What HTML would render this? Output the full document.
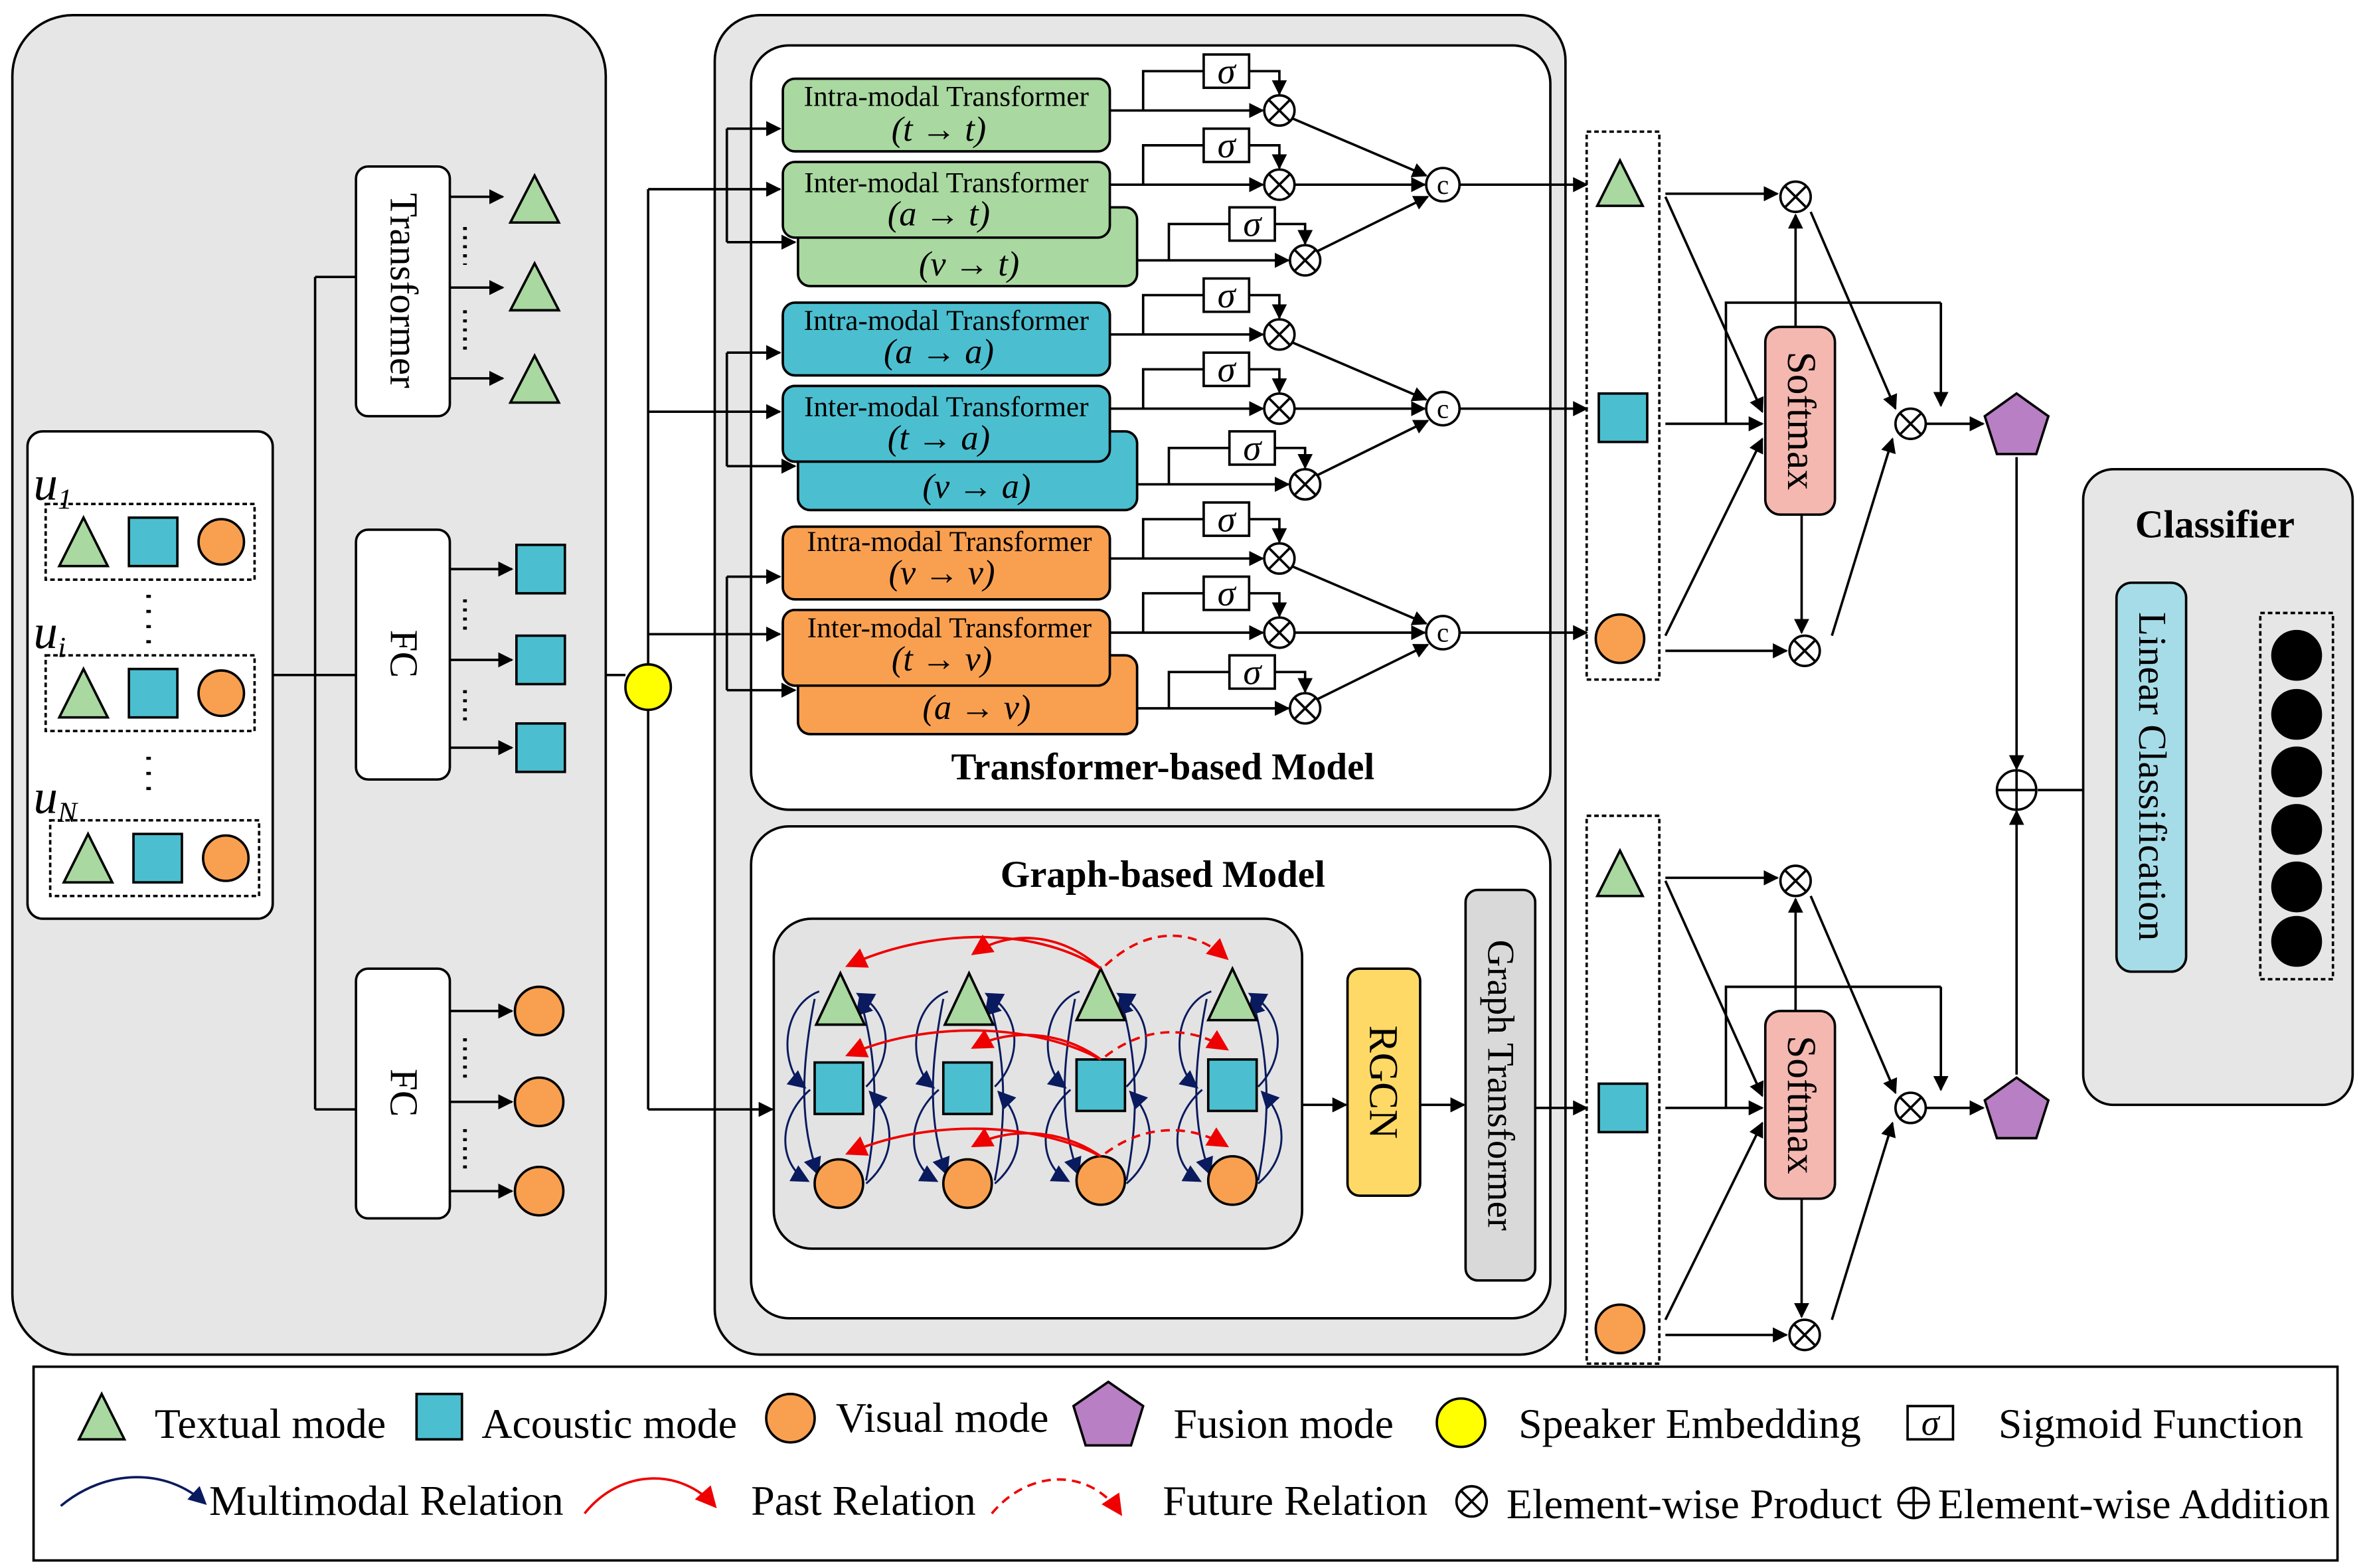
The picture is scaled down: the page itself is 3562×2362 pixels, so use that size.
<!DOCTYPE html>
<html><head><meta charset="utf-8"><style>
html,body{margin:0;padding:0;background:#fff}
svg{display:block}
text{font-family:"Liberation Serif",serif;fill:#000}
</style></head><body>
<svg width="3562" height="2362" viewBox="0 0 1562 1036" xmlns="http://www.w3.org/2000/svg">
<defs>
<marker id="a" markerWidth="10" markerHeight="10" refX="9" refY="5" orient="auto" markerUnits="userSpaceOnUse"><path d="M0,0 L10,5 L0,10 z" fill="#000"/></marker>
<marker id="b" markerWidth="12" markerHeight="12" refX="10" refY="6" orient="auto" markerUnits="userSpaceOnUse"><path d="M0,0 L12,6 L0,12 z" fill="#0a1a5e"/></marker>
<marker id="r" markerWidth="14" markerHeight="14" refX="12" refY="7" orient="auto" markerUnits="userSpaceOnUse"><path d="M0,0 L14,7 L0,14 z" fill="#e00"/></marker>
</defs>
<g stroke="#000" stroke-width="1.6" fill="none">
<rect x="8" y="10" width="392" height="885" rx="40" fill="#e6e6e6"/>
<rect x="18" y="285" width="162" height="322" rx="10" fill="#fff"/>
<rect x="30" y="333" width="138" height="50" stroke-dasharray="3,2"/>
<rect x="30" y="433" width="138" height="50" stroke-dasharray="3,2"/>
<rect x="33" y="542" width="138" height="50" stroke-dasharray="3,2"/>
<polygon points="55,342 39,374 71,374" fill="#a9d8a0"/>
<rect x="85" y="342" width="32" height="32" fill="#4bbfd0"/>
<circle cx="146" cy="358" r="15" fill="#f9a050"/>
<polygon points="55,442 39,474 71,474" fill="#a9d8a0"/>
<rect x="85" y="442" width="32" height="32" fill="#4bbfd0"/>
<circle cx="146" cy="458" r="15" fill="#f9a050"/>
<polygon points="58,551 42,583 74,583" fill="#a9d8a0"/>
<rect x="88" y="551" width="32" height="32" fill="#4bbfd0"/>
<circle cx="149" cy="567" r="15" fill="#f9a050"/>
<path d="M180,446 H208 M208,183 V733 M208,183 H235 M208,446 H235 M208,733 H235"/>
<rect x="235" y="110" width="62" height="165" rx="8" fill="#fff"/>
<rect x="235" y="350" width="62" height="165" rx="8" fill="#fff"/>
<rect x="235" y="640" width="62" height="165" rx="8" fill="#fff"/>
<g marker-end="url(#a)">
<path d="M297,130 H332"/><path d="M297,190 H332"/><path d="M297,250 H332"/>
<path d="M297,376 H338"/><path d="M297,436 H338"/><path d="M297,494 H338"/>
<path d="M297,668 H338"/><path d="M297,728 H338"/><path d="M297,787 H338"/>
</g>
<polygon points="353,116 337,147 369,147" fill="#a9d8a0"/>
<polygon points="353,174 337,205 369,205" fill="#a9d8a0"/>
<polygon points="353,235 337,266 369,266" fill="#a9d8a0"/>
<rect x="341" y="360" width="32" height="32" fill="#4bbfd0"/>
<rect x="341" y="420" width="32" height="32" fill="#4bbfd0"/>
<rect x="341" y="478" width="32" height="32" fill="#4bbfd0"/>
<circle cx="356" cy="668" r="16" fill="#f9a050"/>
<circle cx="356" cy="728" r="16" fill="#f9a050"/>
<circle cx="356" cy="787" r="16" fill="#f9a050"/>
<path d="M307,150 V175 M307,205 V235 M307,396 V420 M307,456 V480 M307,686 V712 M307,746 V772" stroke-dasharray="2,4" stroke-width="2.5"/>
<path d="M98,393 V425 M98,500 V530" stroke-dasharray="2,8" stroke-width="3"/>
<rect x="472" y="10" width="562" height="885" rx="30" fill="#e6e6e6"/>
<rect x="496" y="30" width="528" height="505" rx="25" fill="#fff"/>
<rect x="496" y="546" width="528" height="325" rx="25" fill="#fff"/>
<path d="M400,446 H413"/>
<path d="M428,125 V733"/>
<g marker-end="url(#a)"><path d="M428,125 H515"/><path d="M428,272 H515"/><path d="M428,419 H515"/><path d="M428,733 H510"/></g>
<circle cx="428" cy="454" r="15" fill="#ffff00"/>
</g>
<g id="row0" stroke="#000" stroke-width="1.6" fill="none">
<rect x="527" y="137" width="224" height="52" rx="8" fill="#a9d8a0"/>
<rect x="517" y="107" width="216" height="50" rx="8" fill="#a9d8a0"/>
<rect x="517" y="52" width="216" height="48" rx="8" fill="#a9d8a0"/>
<path d="M480,85 V160"/>
<g marker-end="url(#a)">
<path d="M480,85 H515"/><path d="M480,160 H525"/><path d="M733,73 H834"/><path d="M733,122 H834"/><path d="M751,172 H851"/>
<path d="M825,47 H845 V62"/><path d="M825,96 H845 V111"/><path d="M842,148 H862 V161"/>
<path d="M853,78 L942,116"/><path d="M855,122 H941"/><path d="M870,166 L943,130"/><path d="M964,122 H1048"/>
</g>
<path d="M755,73 V47 H795 M755,122 V96 H795 M772,172 V148 H812"/>
<rect x="795" y="36" width="30" height="22" fill="#fff"/>
<rect x="795" y="85" width="30" height="22" fill="#fff"/>
<rect x="812" y="137" width="30" height="22" fill="#fff"/>
<circle cx="845" cy="73" r="10" fill="#fff"/><path d="M838,66 L852,80 M852,66 L838,80"/>
<circle cx="845" cy="122" r="10" fill="#fff"/><path d="M838,115 L852,129 M852,115 L838,129"/>
<circle cx="862" cy="172" r="10" fill="#fff"/><path d="M855,165 L869,179 M869,165 L855,179"/>
<circle cx="953" cy="122" r="11" fill="#fff"/>
</g>
<use href="#row0" y="148"/>
<use href="#row0" y="296"/>
<g transform="translate(0,148)"><rect x="527" y="137" width="224" height="52" rx="8" fill="#4bbfd0" stroke="#000" stroke-width="1.6"/><rect x="517" y="107" width="216" height="50" rx="8" fill="#4bbfd0" stroke="#000" stroke-width="1.6"/><rect x="517" y="52" width="216" height="48" rx="8" fill="#4bbfd0" stroke="#000" stroke-width="1.6"/></g>
<g transform="translate(0,296)"><rect x="527" y="137" width="224" height="52" rx="8" fill="#f9a050" stroke="#000" stroke-width="1.6"/><rect x="517" y="107" width="216" height="50" rx="8" fill="#f9a050" stroke="#000" stroke-width="1.6"/><rect x="517" y="52" width="216" height="48" rx="8" fill="#f9a050" stroke="#000" stroke-width="1.6"/></g>
<g font-size="19" text-anchor="middle">
<text x="625" y="70">Intra-modal Transformer</text><text x="620" y="93" font-style="italic" font-size="23">(t → t)</text>
<text x="625" y="127">Inter-modal Transformer</text><text x="620" y="149" font-style="italic" font-size="23">(a → t)</text>
<text x="640" y="182" font-style="italic" font-size="23">(v → t)</text>
<text x="625" y="218">Intra-modal Transformer</text><text x="620" y="240" font-style="italic" font-size="23">(a → a)</text>
<text x="625" y="275">Inter-modal Transformer</text><text x="620" y="297" font-style="italic" font-size="23">(t → a)</text>
<text x="645" y="329" font-style="italic" font-size="23">(v → a)</text>
<text x="627" y="364">Intra-modal Transformer</text><text x="622" y="386" font-style="italic" font-size="23">(v → v)</text>
<text x="627" y="421">Inter-modal Transformer</text><text x="622" y="443" font-style="italic" font-size="23">(t → v)</text>
<text x="645" y="475" font-style="italic" font-size="23">(a → v)</text>
</g>
<g font-size="24" font-style="italic" text-anchor="middle">
<text x="810" y="55">σ</text><text x="810" y="104">σ</text><text x="827" y="156">σ</text>
<text x="810" y="203">σ</text><text x="810" y="252">σ</text><text x="827" y="304">σ</text>
<text x="810" y="351">σ</text><text x="810" y="400">σ</text><text x="827" y="452">σ</text>
</g>
<g font-size="18" text-anchor="middle"><text x="953" y="128">c</text><text x="953" y="276">c</text><text x="953" y="424">c</text></g>
<text x="768" y="515" font-size="25" font-weight="bold" text-anchor="middle">Transformer-based Model</text>
<text x="768" y="586" font-size="25" font-weight="bold" text-anchor="middle">Graph-based Model</text>
<g stroke="#000" stroke-width="1.6" fill="none">
<rect x="511" y="607" width="349" height="218" rx="25" fill="#e3e3e3"/>
<g marker-end="url(#a)"><path d="M860,730 H889"/><path d="M938,730 H967"/><path d="M1014,732 H1048"/></g>
<rect x="890" y="640" width="48" height="150" rx="8" fill="#ffd966"/>
<rect x="968" y="588" width="46" height="258" rx="8" fill="#d9d9d9"/>
</g>
<g id="col" fill="none" stroke="#0a1a5e" stroke-width="1.3">
<path d="M541,655 C515,665 515,705 531,718" marker-end="url(#b)"/>
<path d="M535,720 C512,740 515,770 533,780" marker-end="url(#b)"/>
<path d="M538,660 C530,700 527,740 540,775" marker-end="url(#b)"/>
<path d="M572,718 C590,700 590,670 567,657" marker-end="url(#b)"/>
<path d="M572,782 C592,765 592,740 575,722" marker-end="url(#b)"/>
<path d="M572,780 C580,740 580,700 568,660" marker-end="url(#b)"/>
</g>
<use href="#col" x="85"/><use href="#col" x="172"/><use href="#col" x="259"/>
<g stroke="#000" stroke-width="1.6">
<polygon points="555,643 539,677 571,677" fill="#a9d8a0"/>
<polygon points="640,643 624,677 656,677" fill="#a9d8a0"/>
<polygon points="727,640 711,674 743,674" fill="#a9d8a0"/>
<polygon points="814,640 798,674 830,674" fill="#a9d8a0"/>
<rect x="538" y="702" width="32" height="34" fill="#4bbfd0"/>
<rect x="623" y="702" width="32" height="34" fill="#4bbfd0"/>
<rect x="711" y="700" width="32" height="34" fill="#4bbfd0"/>
<rect x="798" y="700" width="32" height="34" fill="#4bbfd0"/>
<circle cx="554" cy="782" r="16" fill="#f9a050"/>
<circle cx="639" cy="782" r="16" fill="#f9a050"/>
<circle cx="727" cy="780" r="16" fill="#f9a050"/>
<circle cx="814" cy="780" r="16" fill="#f9a050"/>
</g>
<g fill="none" stroke="#e00" stroke-width="1.6">
<path d="M727,640 C680,610 610,615 560,638" marker-end="url(#r)"/>
<path d="M727,640 C700,615 665,615 643,630" marker-end="url(#r)"/>
<path d="M730,638 C760,610 790,615 810,633" stroke-dasharray="6,4" marker-end="url(#r)"/>
<path d="M727,700 C680,675 610,675 560,697" marker-end="url(#r)"/>
<path d="M727,700 C700,680 665,680 643,692" marker-end="url(#r)"/>
<path d="M730,698 C760,675 790,680 810,693" stroke-dasharray="6,4" marker-end="url(#r)"/>
<path d="M727,764 C680,740 610,740 560,762" marker-end="url(#r)"/>
<path d="M727,764 C700,745 665,745 643,757" marker-end="url(#r)"/>
<path d="M730,762 C760,740 790,745 810,757" stroke-dasharray="6,4" marker-end="url(#r)"/>
</g>
<g id="fus" stroke="#000" stroke-width="1.6" fill="none">
<rect x="1048" y="87" width="48" height="362" stroke-dasharray="3,2"/>
<path d="M1140,280 V200 H1282"/>
<g marker-end="url(#a)">
<path d="M1100,128 H1174"/><path d="M1100,130 L1164,272"/><path d="M1100,280 H1164"/><path d="M1100,420 L1164,290"/>
<path d="M1100,430 H1180"/><path d="M1186,216 V142"/><path d="M1190,340 V418"/><path d="M1196,140 L1252,270"/>
<path d="M1210,420 L1250,290"/><path d="M1282,200 V268"/><path d="M1272,280 H1310"/>
</g>
<rect x="1166" y="216" width="46" height="124" rx="10" fill="#f4b8b0"/>
<circle cx="1186" cy="130" r="10" fill="#fff"/><path d="M1179,123 L1193,137 M1193,123 L1179,137"/>
<circle cx="1192" cy="430" r="10" fill="#fff"/><path d="M1185,423 L1199,437 M1199,423 L1185,437"/>
<circle cx="1262" cy="280" r="10" fill="#fff"/><path d="M1255,273 L1269,287 M1269,273 L1255,287"/>
<polygon points="1332,260 1353,275 1345,300 1319,300 1311,275" fill="#b87fc4"/>
</g>
<use href="#fus" y="452"/>
<g stroke="#000" stroke-width="1.6">
<polygon points="1070,106 1055,136 1085,136" fill="#a9d8a0"/>
<rect x="1056" y="260" width="32" height="32" fill="#4bbfd0"/>
<circle cx="1070" cy="422" r="16" fill="#f9a050"/>
<polygon points="1070,562 1055,592 1085,592" fill="#a9d8a0"/>
<rect x="1056" y="716" width="32" height="32" fill="#4bbfd0"/>
<circle cx="1070" cy="878" r="16" fill="#f9a050"/>
<g fill="none" marker-end="url(#a)"><path d="M1332,302 V508"/><path d="M1332,710 V536"/><path d="M1346,522 H1392"/><path d="M1448,522 H1490"/></g>
<circle cx="1332" cy="522" r="13" fill="#fff"/><path d="M1319,522 H1345 M1332,509 V535"/>
<rect x="1376" y="310" width="178" height="420" rx="20" fill="#e6e6e6"/>
<rect x="1398" y="385" width="46" height="257" rx="10" fill="#a6dce8"/>
<rect x="1493" y="405" width="48" height="242" fill="none" stroke-dasharray="3,2"/>
<circle cx="1517" cy="433" r="16" fill="#000"/><circle cx="1517" cy="472" r="16" fill="#000"/><circle cx="1517" cy="510" r="16" fill="#000"/><circle cx="1517" cy="548" r="16" fill="#000"/><circle cx="1517" cy="586" r="16" fill="#000"/><circle cx="1517" cy="622" r="16" fill="#000"/>
</g>
<text x="1463" y="355" font-size="26" font-weight="bold" text-anchor="middle">Classifier</text>
<g font-size="26" text-anchor="middle">
<text transform="translate(258,192) rotate(90)">Transformer</text>
<text transform="translate(258,432) rotate(90)">FC</text>
<text transform="translate(258,722) rotate(90)">FC</text>
<text transform="translate(905,715) rotate(90)" font-size="27">RGCN</text>
<text transform="translate(983,717) rotate(90)" font-size="25">Graph Transformer</text>
<text transform="translate(1181,278) rotate(90)" font-size="27">Softmax</text>
<text transform="translate(1181,730) rotate(90)" font-size="27">Softmax</text>
<text transform="translate(1413,513) rotate(90)" font-size="26">Linear Classification</text>
</g>
<g font-style="italic" font-size="32"><text x="22" y="330">u<tspan font-size="19" dy="6">1</tspan></text><text x="22" y="428">u<tspan font-size="19" dy="6">i</tspan></text><text x="22" y="537">u<tspan font-size="19" dy="6">N</tspan></text></g>
<rect x="22" y="903" width="1522" height="128" fill="#fff" stroke="#000" stroke-width="1.6"/>
<g stroke="#000" stroke-width="1.6">
<polygon points="67,921 52,951 82,951" fill="#a9d8a0"/>
<rect x="275" y="921" width="30" height="30" fill="#4bbfd0"/>
<circle cx="522" cy="937" r="16" fill="#f9a050"/>
<polygon points="732,913 755,929 747,955 717,955 709,929" fill="#b87fc4"/>
<circle cx="965" cy="940" r="16" fill="#ffff00"/>
<rect x="1260" y="929" width="30" height="22" fill="#fff"/>
<circle cx="972" cy="992" r="10" fill="#fff"/><path d="M965,985 L979,999 M979,985 L965,999"/>
<circle cx="1264" cy="993" r="10" fill="#fff"/><path d="M1254,993 H1274 M1264,983 V1003"/>
</g>
<path d="M40,995 C70,970 110,970 135,993" fill="none" stroke="#0a1a5e" stroke-width="1.6" marker-end="url(#b)"/>
<path d="M386,1000 C410,970 450,970 472,995" fill="none" stroke="#e00" stroke-width="1.6" marker-end="url(#r)"/>
<path d="M655,1000 C680,970 720,970 740,1000" fill="none" stroke="#e00" stroke-width="1.6" stroke-dasharray="6,4" marker-end="url(#r)"/>
<g font-size="28">
<text x="102" y="950">Textual mode</text>
<text x="318" y="950">Acoustic mode</text>
<text x="552" y="946">Visual mode</text>
<text x="775" y="950">Fusion mode</text>
<text x="1003" y="950">Speaker Embedding</text>
<text x="1275" y="948" font-style="italic" font-size="24" text-anchor="middle">σ</text>
<text x="1320" y="950">Sigmoid Function</text>
<text x="138" y="1001">Multimodal Relation</text>
<text x="496" y="1001">Past Relation</text>
<text x="768" y="1001">Future Relation</text>
<text x="995" y="1003">Element-wise Product</text>
<text x="1280" y="1003">Element-wise Addition</text>
</g>
</svg>
</body></html>
